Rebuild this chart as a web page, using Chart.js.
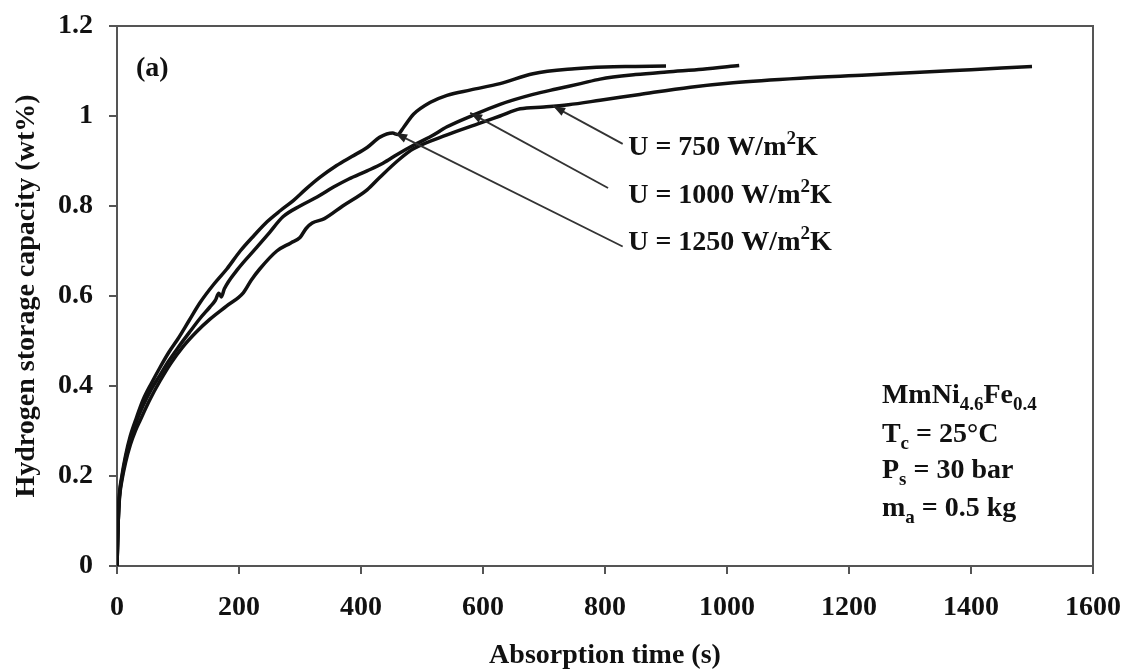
<!DOCTYPE html>
<html>
<head>
<meta charset="utf-8">
<script src="https://cdn.jsdelivr.net/npm/chart.js@4.4.1/dist/chart.umd.min.js"></script>
<style>
html,body{margin:0;padding:0;background:#fff;}
#wrap{width:1126px;height:670px;position:relative;}
</style>
</head>
<body>
<div id="wrap"><canvas id="c" width="1126" height="670"></canvas></div>
<script>
// ---------------- data ----------------
const timeU1250 = [0,1,2,4,8,14,22,32,43,56,70,85,100,118,136,158,180,202,225,246,268,289,310,333,360,385,410,431,452,460,470,486,513,541,580,628,682,750,800,850,900];
const capU1250  = [0,0.05,0.1,0.16,0.2,0.245,0.29,0.33,0.37,0.405,0.44,0.475,0.505,0.545,0.585,0.625,0.66,0.7,0.735,0.765,0.79,0.812,0.838,0.864,0.89,0.91,0.93,0.953,0.962,0.959,0.975,1.004,1.03,1.046,1.058,1.072,1.094,1.105,1.109,1.11,1.111];

const timeU1000 = [0,1,2,4,8,14,22,32,43,56,70,85,100,118,136,152,161,167,171,176,197,229,250,272,300,328,355,380,410,436,460,486,515,541,584,628,682,720,760,792,850,901,960,1020];
const capU1000  = [0,0.05,0.1,0.155,0.195,0.24,0.283,0.322,0.357,0.392,0.423,0.456,0.485,0.518,0.55,0.575,0.59,0.606,0.598,0.616,0.658,0.708,0.741,0.776,0.8,0.82,0.842,0.86,0.878,0.895,0.915,0.935,0.955,0.976,1.002,1.026,1.048,1.06,1.072,1.082,1.092,1.098,1.104,1.112];

const timeU750 = [0,1,2,4,8,14,22,30,38,54,70,88,108,130,152,180,207,220,234,262,285,300,310,320,340,370,410,431,464,486,541,595,628,661,700,740,792,857,940,1010,1120,1229,1300,1400,1500];
const capU750  = [0,0.05,0.1,0.15,0.19,0.23,0.27,0.3,0.324,0.37,0.41,0.45,0.487,0.52,0.548,0.578,0.607,0.635,0.66,0.7,0.718,0.73,0.75,0.762,0.772,0.8,0.836,0.864,0.905,0.927,0.958,0.984,1.0,1.016,1.02,1.025,1.035,1.048,1.064,1.074,1.084,1.091,1.096,1.103,1.11];

const xTicks = [0,200,400,600,800,1000,1200,1400,1600];
const xTickLabels = ['0','200','400','600','800','1000','1200','1400','1600'];
const yTicks = [0,0.2,0.4,0.6,0.8,1.0,1.2];
const yTickLabels = ['0','0.2','0.4','0.6','0.8','1','1.2'];

const xTitle = 'Absorption time (s)';
const yTitle = 'Hydrogen storage capacity (wt%)';
const panelLabel = '(a)';

// annotation labels: tip (time, cap), line end (time, cap), text start (time, baseline cap)
const seriesLabels = ['750', '1000', '1250'];
const labelTip   = [[715, 1.022], [579, 1.007], [456, 0.962]];
const labelEnd   = [[829, 0.938], [805, 0.84], [829, 0.71]];
const labelText  = [[838, 0.913], [838, 0.807], [838, 0.702]];

// info box lines: [text, kind]
const infoLines = [
  [['MmNi','n'],['4.6','sub'],['Fe','n'],['0.4','sub']],
  [['T','n'],['c','sub'],[' = 25°C','n']],
  [['P','n'],['s','sub'],[' = 30 bar','n']],
  [['m','n'],['a','sub'],[' = 0.5 kg','n']]
];
const infoPos = [1254, [0.362, 0.276, 0.196, 0.111]];
const panelPos = [31, 1.09];

// ---------------- chart ----------------
const FONT = '"Liberation Serif", "Times New Roman", serif';
const TXT = '#111';
const AXC = '#555';

function pts(t, c){ return t.map((v,i)=>({x:v, y:c[i]})); }

function drawRich(ctx, x, y, parts, base){
  let cx = x;
  for (const [txt, kind] of parts){
    let size = base, dy = 0;
    if (kind === 'sub'){ size = Math.round(base*0.68); dy = 7; }
    if (kind === 'sup'){ size = Math.round(base*0.68); dy = -11; }
    ctx.font = `bold ${size}px ${FONT}`;
    ctx.fillText(txt, cx, y+dy);
    cx += ctx.measureText(txt).width;
  }
}

const annot = {
  id: 'annot',
  afterDraw(chart){
    const {ctx, chartArea: ca, scales: {x, y}} = chart;
    ctx.save();
    // frame top and right
    ctx.strokeStyle = AXC; ctx.lineWidth = 2;
    ctx.beginPath();
    ctx.moveTo(ca.left, ca.top); ctx.lineTo(ca.right, ca.top); ctx.lineTo(ca.right, ca.bottom);
    ctx.stroke();

    // leader lines with arrows
    ctx.strokeStyle = '#333'; ctx.fillStyle = '#222'; ctx.lineWidth = 1.8;
    for (let i = 0; i < seriesLabels.length; i++){
      const tx = x.getPixelForValue(labelTip[i][0]), ty = y.getPixelForValue(labelTip[i][1]);
      const ex = x.getPixelForValue(labelEnd[i][0]), ey = y.getPixelForValue(labelEnd[i][1]);
      ctx.beginPath(); ctx.moveTo(ex, ey); ctx.lineTo(tx, ty); ctx.stroke();
      const ang = Math.atan2(ty - ey, tx - ex);
      const L = 12, W = 4.5;
      const bx = tx - L*Math.cos(ang), by = ty - L*Math.sin(ang);
      ctx.beginPath();
      ctx.moveTo(tx, ty);
      ctx.lineTo(bx + W*Math.sin(ang), by - W*Math.cos(ang));
      ctx.lineTo(bx - W*Math.sin(ang), by + W*Math.cos(ang));
      ctx.closePath(); ctx.fill();
    }

    ctx.fillStyle = TXT; ctx.textAlign = 'left'; ctx.textBaseline = 'alphabetic';
    for (let i = 0; i < seriesLabels.length; i++){
      const px = x.getPixelForValue(labelText[i][0]), py = y.getPixelForValue(labelText[i][1]);
      drawRich(ctx, px, py, [['U = ' + seriesLabels[i] + ' W/m','n'],['2','sup'],['K','n']], 28);
    }
    // info block
    const ix = x.getPixelForValue(infoPos[0]);
    infoLines.forEach((parts, k) => {
      drawRich(ctx, ix, y.getPixelForValue(infoPos[1][k]), parts, 28);
    });
    // panel label
    ctx.font = `bold 28px ${FONT}`;
    ctx.fillText(panelLabel, x.getPixelForValue(panelPos[0]), y.getPixelForValue(panelPos[1]));
    ctx.restore();
  }
};

const lineStyle = {borderColor:'#111', borderWidth:3.5, pointRadius:0, fill:false, cubicInterpolationMode:'monotone'};

new Chart(document.getElementById('c'), {
  type: 'line',
  data: {
    datasets: [
      Object.assign({label:'U = 1250 W/m2K', data: pts(timeU1250, capU1250)}, lineStyle),
      Object.assign({label:'U = 1000 W/m2K', data: pts(timeU1000, capU1000)}, lineStyle),
      Object.assign({label:'U = 750 W/m2K',  data: pts(timeU750, capU750)}, lineStyle)
    ]
  },
  options: {
    responsive: false,
    animation: false,
    devicePixelRatio: 1,
    layout: {padding: {left: 0, top: 26, right: 33, bottom: 0}},
    plugins: {legend: {display:false}, tooltip: {enabled:false}},
    scales: {
      x: {
        type: 'linear', min: 0, max: 1600,
        afterFit(s){ s.height = 104; s.paddingLeft = 0; s.paddingRight = 0; },
        afterBuildTicks(s){ s.ticks = xTicks.map(v=>({value:v})); },
        ticks: {callback:(v,i)=>xTickLabels[i], color: TXT, font:{family:FONT, size:28, weight:'bold'}, padding: 17, maxRotation:0, autoSkip:false},
        grid: {display:true, drawOnChartArea:false, drawTicks:true, tickLength:8, color:AXC, lineWidth:2},
        border: {display:true, color:AXC, width:2},
        title: {display:true, text:xTitle, color:TXT, font:{family:FONT, size:28, weight:'bold', lineHeight:1}, padding:{top:0, bottom:0}}
      },
      y: {
        type: 'linear', min: 0, max: 1.2,
        afterFit(s){ s.width = 117; s.paddingTop = 0; s.paddingBottom = 0; },
        afterBuildTicks(s){ s.ticks = yTicks.map(v=>({value:v})); },
        ticks: {callback:(v,i)=>yTickLabels[i], color: TXT, font:{family:FONT, size:28, weight:'bold'}, padding: 16, autoSkip:false},
        grid: {display:true, drawOnChartArea:false, drawTicks:true, tickLength:8, color:AXC, lineWidth:2},
        border: {display:true, color:AXC, width:2},
        title: {display:true, text:yTitle, color:TXT, font:{family:FONT, size:28, weight:'bold', lineHeight:1}, padding:{top:13, bottom:0}}
      }
    }
  },
  plugins: [annot]
});
</script>
</body>
</html>
